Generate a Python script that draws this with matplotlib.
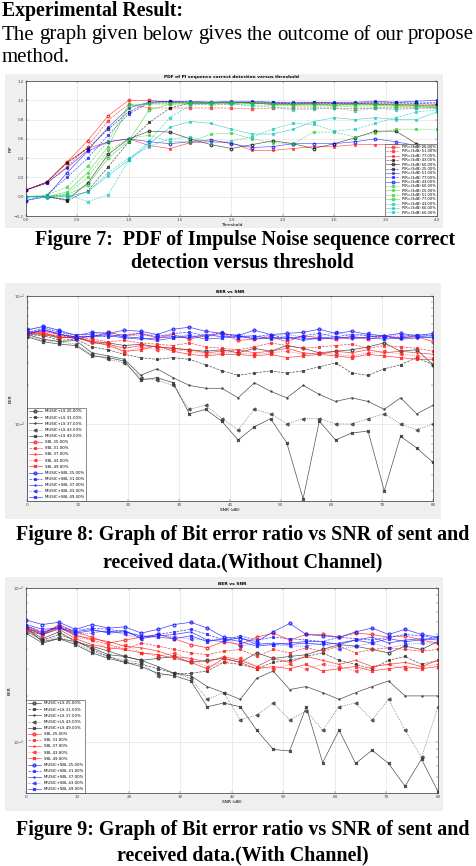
import matplotlib
matplotlib.use("Agg")
import matplotlib.pyplot as plt
import matplotlib.patches as pth
import numpy as np

W, H = 477, 866

# ---- Figure 7 data: PDF vs threshold ----
thr = [0.0, 0.2, 0.4, 0.6, 0.8, 1.0, 1.2, 1.4, 1.6, 1.8, 2.0,
       2.2, 2.4, 2.6, 2.8, 3.0, 3.2, 3.4, 3.6, 3.8, 4.0]
pdf_labels = ["PIR=(3dB) 25.00%", "PIR=(3dB) 51.00%", "PIR=(3dB) 77.00%",
              "PIR=(3dB) 43.00%", "PIR=(3dB) 60.00%", "PIR=(3dB) 25.00%",
              "PIR=(3dB) 51.00%", "PIR=(3dB) 77.00%", "PIR=(3dB) 43.00%",
              "PIR=(3dB) 60.00%", "PIR=(3dB) 25.00%", "PIR=(3dB) 51.00%",
              "PIR=(3dB) 77.00%", "PIR=(3dB) 43.00%", "PIR=(3dB) 60.00%",
              "PIR=(3dB) 60.00%"]
pdf_colors = ["r", "r", "r", "k", "k", "k", "b", "b", "b",
              "#22cc22", "#22cc22", "#22cc22", "#22cc22", "c", "c", "c"]
pdf_r1 = [0.07, 0.15, 0.36, 0.58, 0.84, 1.00, 1.00, 0.98, 0.97, 0.97, 0.97, 0.98, 0.97, 0.96, 0.97, 0.97, 0.97, 0.96, 0.96, 0.95, 0.95]
pdf_r2 = [0.07, 0.14, 0.31, 0.52, 0.79, 0.96, 0.92, 0.92, 0.92, 0.92, 0.92, 0.91, 0.92, 0.92, 0.92, 0.92, 0.91, 0.92, 0.92, 0.92, 0.92]
pdf_r3 = [0.07, 0.15, 0.36, 0.50, 0.57, 0.60, 0.53, 0.50, 0.56, 0.57, 0.56, 0.48, 0.48, 0.50, 0.52, 0.52, 0.54, 0.54, 0.54, 0.52, 0.53]
pdf_k1 = [0.00, 0.00, -0.04, 0.06, 0.31, 0.57, 0.77, 0.92, 0.97, 0.97, 0.98, 0.97, 0.96, 0.96, 0.96, 0.95, 0.96, 0.96, 0.95, 0.95, 0.95]
pdf_k2 = [0.00, 0.00, -0.03, 0.14, 0.44, 0.60, 0.68, 0.67, 0.60, 0.54, 0.50, 0.54, 0.58, 0.55, 0.50, 0.55, 0.61, 0.68, 0.68, 0.55, 0.48]
pdf_k3 = [0.07, 0.15, 0.35, 0.50, 0.70, 0.88, 0.98, 0.99, 0.98, 0.98, 0.98, 0.97, 0.96, 0.97, 0.97, 0.97, 0.97, 0.97, 0.97, 0.97, 0.96]
pdf_b1 = [0.07, 0.14, 0.30, 0.48, 0.72, 0.92, 0.98, 0.99, 0.99, 0.98, 0.99, 0.99, 0.98, 0.98, 0.98, 0.98, 0.98, 0.99, 0.98, 0.99, 1.00]
pdf_b2 = [-0.04, 0.02, 0.20, 0.40, 0.64, 0.86, 0.97, 0.98, 0.98, 0.98, 0.97, 0.98, 0.98, 0.97, 0.98, 0.97, 0.97, 0.98, 0.98, 0.97, 0.98]
pdf_b3 = [-0.04, 0.00, 0.25, 0.47, 0.57, 0.60, 0.57, 0.55, 0.57, 0.59, 0.55, 0.51, 0.52, 0.55, 0.55, 0.55, 0.57, 0.60, 0.57, 0.53, 0.48]
pdf_g1 = [0.00, 0.02, 0.10, 0.32, 0.58, 0.96, 0.96, 0.96, 0.96, 0.95, 0.96, 0.95, 0.95, 0.94, 0.94, 0.94, 0.93, 0.93, 0.93, 0.93, 0.93]
pdf_g2 = [0.00, 0.00, 0.05, 0.25, 0.52, 0.94, 0.97, 0.97, 0.98, 0.98, 0.97, 0.97, 0.96, 0.95, 0.95, 0.95, 0.95, 0.95, 0.94, 0.94, 0.92]
pdf_g3 = [0.00, 0.00, 0.03, 0.20, 0.48, 0.60, 0.64, 0.57, 0.57, 0.65, 0.66, 0.60, 0.56, 0.55, 0.67, 0.67, 0.62, 0.66, 0.70, 0.70, 0.70]
pdf_g4 = [0.00, 0.00, 0.02, 0.12, 0.40, 0.58, 0.90, 0.96, 0.97, 0.97, 0.98, 0.97, 0.96, 0.96, 0.96, 0.95, 0.96, 0.96, 0.95, 0.95, 0.93]
pdf_c1 = [0.00, 0.00, 0.02, -0.05, 0.02, 0.38, 0.58, 0.82, 0.95, 0.96, 0.96, 0.94, 0.93, 0.90, 0.91, 0.92, 0.89, 0.92, 0.90, 0.92, 0.92]
pdf_c2 = [0.00, 0.00, 0.00, 0.05, 0.22, 0.38, 0.55, 0.72, 0.78, 0.76, 0.70, 0.65, 0.65, 0.70, 0.78, 0.82, 0.80, 0.82, 0.80, 0.80, 0.88]
pdf_c3 = [0.00, 0.00, 0.00, 0.05, 0.25, 0.40, 0.52, 0.60, 0.62, 0.56, 0.58, 0.62, 0.70, 0.76, 0.75, 0.68, 0.70, 0.76, 0.82, 0.88, 0.90]
pdf_series = [pdf_r1, pdf_r2, pdf_r3, pdf_k1, pdf_k2, pdf_k3, pdf_b1, pdf_b2, pdf_b3,
              pdf_g1, pdf_g2, pdf_g3, pdf_g4, pdf_c1, pdf_c2, pdf_c3]

# ---- Figure 8 data: BER vs SNR without channel ----
snr = [0.0, 3.2, 6.4, 9.6, 12.8, 16.0, 19.2, 22.4, 25.6, 28.8, 32.0, 35.2, 38.4,
       41.6, 44.8, 48.0, 51.2, 54.4, 57.6, 60.8, 64.0, 67.2, 70.4, 73.6, 76.8, 80.0]
pct = ["25.00%", "31.00%", "37.00%", "43.00%", "49.00%"]
ber_labels = (["MUSIC+LS " + p for p in pct] + ["SBL " + p for p in pct]
              + ["MUSIC+SBL " + p for p in pct])

b8_k1 = [0.051, 0.050, 0.047, 0.048, 0.044, 0.043, 0.041, 0.042, 0.040, 0.039, 0.038, 0.037, 0.038, 0.036, 0.039, 0.037, 0.041, 0.039, 0.036, 0.037, 0.038, 0.040, 0.043, 0.037, 0.038, 0.029]
b8_k2 = [0.050, 0.049, 0.045, 0.046, 0.040, 0.038, 0.035, 0.033, 0.032, 0.033, 0.032, 0.029, 0.026, 0.024, 0.025, 0.026, 0.025, 0.026, 0.028, 0.030, 0.025, 0.024, 0.027, 0.029, 0.033, 0.029]
b8_k3 = [0.050, 0.046, 0.044, 0.045, 0.036, 0.034, 0.032, 0.024, 0.027, 0.023, 0.020, 0.019, 0.019, 0.016, 0.021, 0.018, 0.016, 0.020, 0.017, 0.015, 0.016, 0.015, 0.013, 0.016, 0.012, 0.014]
b8_k4 = [0.049, 0.045, 0.044, 0.042, 0.035, 0.032, 0.030, 0.023, 0.022, 0.020, 0.013, 0.014, 0.011, 0.009, 0.013, 0.012, 0.010, 0.011, 0.011, 0.010, 0.010, 0.011, 0.012, 0.010, 0.009, 0.010]
b8_k5 = [0.048, 0.044, 0.042, 0.041, 0.034, 0.033, 0.031, 0.022, 0.023, 0.021, 0.012, 0.013, 0.0105, 0.0075, 0.0095, 0.011, 0.0071, 0.0026, 0.0105, 0.0075, 0.0085, 0.0088, 0.003, 0.008, 0.0065, 0.005]
b8_r1 = [0.052, 0.053, 0.050, 0.048, 0.048, 0.052, 0.049, 0.051, 0.047, 0.050, 0.046, 0.049, 0.051, 0.045, 0.046, 0.048, 0.044, 0.049, 0.047, 0.046, 0.048, 0.046, 0.049, 0.047, 0.048, 0.044]
b8_r2 = [0.053, 0.051, 0.049, 0.047, 0.046, 0.044, 0.045, 0.043, 0.042, 0.041, 0.043, 0.040, 0.039, 0.038, 0.040, 0.043, 0.041, 0.039, 0.040, 0.041, 0.042, 0.039, 0.041, 0.040, 0.039, 0.037]
b8_r3 = [0.051, 0.052, 0.047, 0.048, 0.043, 0.042, 0.039, 0.041, 0.040, 0.039, 0.038, 0.036, 0.037, 0.038, 0.036, 0.037, 0.039, 0.036, 0.035, 0.037, 0.036, 0.038, 0.036, 0.037, 0.036, 0.035]
b8_r4 = [0.052, 0.050, 0.048, 0.046, 0.045, 0.043, 0.036, 0.040, 0.038, 0.038, 0.037, 0.035, 0.036, 0.036, 0.035, 0.036, 0.037, 0.035, 0.036, 0.035, 0.034, 0.036, 0.037, 0.035, 0.034, 0.033]
b8_r5 = [0.050, 0.051, 0.048, 0.047, 0.044, 0.041, 0.037, 0.038, 0.041, 0.037, 0.035, 0.034, 0.035, 0.035, 0.034, 0.035, 0.033, 0.034, 0.035, 0.034, 0.033, 0.035, 0.034, 0.033, 0.032, 0.032]
b8_b1 = [0.054, 0.058, 0.054, 0.049, 0.052, 0.051, 0.054, 0.053, 0.050, 0.055, 0.057, 0.053, 0.051, 0.049, 0.054, 0.050, 0.051, 0.052, 0.055, 0.051, 0.053, 0.050, 0.049, 0.051, 0.049, 0.051]
b8_b2 = [0.052, 0.056, 0.052, 0.050, 0.050, 0.048, 0.050, 0.051, 0.048, 0.051, 0.052, 0.049, 0.052, 0.047, 0.048, 0.050, 0.046, 0.049, 0.051, 0.048, 0.050, 0.049, 0.047, 0.048, 0.050, 0.049]
b8_b3 = [0.050, 0.055, 0.050, 0.048, 0.048, 0.049, 0.047, 0.046, 0.047, 0.048, 0.047, 0.050, 0.048, 0.049, 0.046, 0.047, 0.048, 0.045, 0.047, 0.048, 0.046, 0.048, 0.049, 0.046, 0.047, 0.048]
b8_b4 = [0.055, 0.057, 0.053, 0.047, 0.051, 0.052, 0.049, 0.049, 0.050, 0.048, 0.050, 0.048, 0.050, 0.050, 0.047, 0.049, 0.050, 0.048, 0.049, 0.052, 0.049, 0.051, 0.048, 0.050, 0.048, 0.050]
b8_b5 = [0.051, 0.054, 0.051, 0.046, 0.049, 0.050, 0.048, 0.047, 0.045, 0.047, 0.049, 0.046, 0.047, 0.048, 0.049, 0.046, 0.047, 0.047, 0.046, 0.047, 0.048, 0.047, 0.046, 0.047, 0.049, 0.047]
ber8_series = [b8_k1, b8_k2, b8_k3, b8_k4, b8_k5, b8_r1, b8_r2, b8_r3, b8_r4, b8_r5,
               b8_b1, b8_b2, b8_b3, b8_b4, b8_b5]

# ---- Figure 9 data: BER vs SNR with channel ----
b9_k1 = [0.0055, 0.0047, 0.0052, 0.0045, 0.0041, 0.0037, 0.0036, 0.0034, 0.0035, 0.0036, 0.0033, 0.0034, 0.0035, 0.0033, 0.0038, 0.0035, 0.0036, 0.0037, 0.0040, 0.0043, 0.0042, 0.0040, 0.0038, 0.0042, 0.0040, 0.0045]
b9_k2 = [0.0053, 0.0046, 0.0050, 0.0046, 0.0040, 0.0036, 0.0033, 0.0032, 0.0030, 0.0028, 0.0028, 0.0029, 0.0033, 0.0032, 0.0030, 0.0033, 0.0034, 0.0036, 0.0038, 0.0034, 0.0032, 0.0030, 0.0034, 0.0036, 0.0032, 0.0034]
b9_k3 = [0.0055, 0.0045, 0.0047, 0.0045, 0.0042, 0.0039, 0.0036, 0.0034, 0.0031, 0.0028, 0.0027, 0.0023, 0.0021, 0.0019, 0.0026, 0.0029, 0.0022, 0.0023, 0.0021, 0.0019, 0.0021, 0.0023, 0.0025, 0.0020, 0.0020, 0.0020]
b9_k4 = [0.0052, 0.0046, 0.0048, 0.0044, 0.0039, 0.0036, 0.0034, 0.0033, 0.0027, 0.0028, 0.0026, 0.0019, 0.0021, 0.0014, 0.0015, 0.0018, 0.0014, 0.0016, 0.0012, 0.0017, 0.0018, 0.0014, 0.0019, 0.0012, 0.0008, 0.0017]
b9_k5 = [0.0051, 0.0044, 0.0047, 0.0043, 0.0038, 0.0035, 0.0033, 0.0031, 0.0028, 0.0027, 0.0025, 0.0017, 0.0018, 0.0017, 0.0012, 0.0009, 0.00088, 0.0017, 0.00074, 0.0012, 0.00073, 0.00089, 0.00073, 0.00052, 0.00078, 0.00048]
b9_r1 = [0.0056, 0.0050, 0.0058, 0.0052, 0.0048, 0.0044, 0.0046, 0.0048, 0.0050, 0.0047, 0.0043, 0.0041, 0.0045, 0.0043, 0.0048, 0.0051, 0.0046, 0.0050, 0.0050, 0.0048, 0.0051, 0.0050, 0.0048, 0.0049, 0.0046, 0.0044]
b9_r2 = [0.0054, 0.0052, 0.0055, 0.0050, 0.0046, 0.0043, 0.0040, 0.0044, 0.0042, 0.0040, 0.0038, 0.0037, 0.0039, 0.0040, 0.0036, 0.0040, 0.0038, 0.0041, 0.0039, 0.0042, 0.0038, 0.0040, 0.0041, 0.0040, 0.0039, 0.0040]
b9_r3 = [0.0057, 0.0051, 0.0056, 0.0049, 0.0047, 0.0045, 0.0042, 0.0041, 0.0039, 0.0036, 0.0035, 0.0033, 0.0036, 0.0034, 0.0031, 0.0035, 0.0033, 0.0036, 0.0034, 0.0032, 0.0034, 0.0031, 0.0032, 0.0033, 0.0031, 0.0034]
b9_r4 = [0.0055, 0.0049, 0.0057, 0.0048, 0.0046, 0.0040, 0.0043, 0.0038, 0.0036, 0.0038, 0.0034, 0.0031, 0.0033, 0.0035, 0.0031, 0.0030, 0.0032, 0.0030, 0.0032, 0.0031, 0.0029, 0.0031, 0.0032, 0.0030, 0.0031, 0.0032]
b9_r5 = [0.0053, 0.0050, 0.0054, 0.0047, 0.0043, 0.0041, 0.0040, 0.0038, 0.0037, 0.0035, 0.0033, 0.0030, 0.0035, 0.0033, 0.0030, 0.0031, 0.0030, 0.0032, 0.0029, 0.0030, 0.0031, 0.0029, 0.0030, 0.0031, 0.0030, 0.0031]
b9_b1 = [0.0062, 0.0058, 0.0060, 0.0054, 0.0058, 0.0055, 0.0056, 0.0051, 0.0054, 0.0058, 0.0060, 0.0055, 0.0048, 0.0047, 0.0045, 0.0052, 0.0059, 0.0050, 0.0049, 0.0048, 0.0052, 0.0055, 0.0050, 0.0054, 0.0050, 0.0048]
b9_b2 = [0.0057, 0.0052, 0.0056, 0.0053, 0.0055, 0.0054, 0.0052, 0.0048, 0.0050, 0.0052, 0.0054, 0.0050, 0.0046, 0.0049, 0.0046, 0.0048, 0.0047, 0.0046, 0.0045, 0.0048, 0.0047, 0.0046, 0.0048, 0.0050, 0.0049, 0.0047]
b9_b3 = [0.0055, 0.0050, 0.0055, 0.0051, 0.0053, 0.0052, 0.0053, 0.0047, 0.0049, 0.0050, 0.0052, 0.0046, 0.0045, 0.0048, 0.0043, 0.0044, 0.0043, 0.0044, 0.0043, 0.0044, 0.0046, 0.0048, 0.0044, 0.0046, 0.0047, 0.0046]
b9_b4 = [0.0056, 0.0051, 0.0057, 0.0050, 0.0051, 0.0053, 0.0050, 0.0047, 0.0050, 0.0048, 0.0047, 0.0046, 0.0047, 0.0042, 0.0044, 0.0043, 0.0042, 0.0042, 0.0044, 0.0040, 0.0042, 0.0044, 0.0041, 0.0043, 0.0044, 0.0044]
b9_b5 = [0.0058, 0.0054, 0.0055, 0.0052, 0.0054, 0.0051, 0.0052, 0.0049, 0.0048, 0.0047, 0.0049, 0.0045, 0.0047, 0.0045, 0.0042, 0.0043, 0.0044, 0.0045, 0.0045, 0.0043, 0.0046, 0.0044, 0.0047, 0.0045, 0.0046, 0.0048]
ber9_series = [b9_k1, b9_k2, b9_k3, b9_k4, b9_k5, b9_r1, b9_r2, b9_r3, b9_r4, b9_r5,
               b9_b1, b9_b2, b9_b3, b9_b4, b9_b5]

ber_colors = ["#333333"] * 5 + ["#ff2020"] * 5 + ["#2020ff"] * 5
markers = ["o", "*", "+", "<", "x"]
styles = ["-", "--", "-", ":", "-"]

paragraph = ["The", "graph", "given", "below", "gives", "the", "outcome", "of", "our", "propose"]


def rect(x0, y0, x1, y1):
    return [x0 / W, 1 - y1 / H, (x1 - x0) / W, (y1 - y0) / H]


def panel(fig, x0, y0, x1, y1):
    # grey matlab-like figure background behind each chart
    fig.patches.append(pth.Rectangle((x0 / W, 1 - y1 / H), (x1 - x0) / W, (y1 - y0) / H,
                                     transform=fig.transFigure, facecolor="#efefef",
                                     edgecolor="none", zorder=-5))


def style_axes(ax, title, xlabel, ylabel):
    ax.set_title(title, fontsize=3.2, fontweight="bold", pad=2)
    ax.set_xlabel(xlabel, fontsize=3.2, labelpad=1)
    ax.set_ylabel(ylabel, fontsize=3.2, labelpad=1)
    ax.tick_params(labelsize=3, length=1.5, width=0.3, pad=1.5, colors="#444444",
                   which="both", direction="in", top=True, right=True)
    ax.grid(True, color="#dddddd", linewidth=0.4)
    for s in ax.spines.values():
        s.set_linewidth(0.5)
        s.set_color("#333333")


def add_legend(ax, loc, fs, spacing):
    leg = ax.legend(loc=loc, bbox_to_anchor=(1, 0) if "right" in loc else (0, 0),
                    borderaxespad=0, fontsize=fs, handlelength=3.5, labelspacing=spacing,
                    frameon=True, fancybox=False, borderpad=0.4, handletextpad=0.8)
    leg.get_frame().set_linewidth(0.5)
    leg.get_frame().set_edgecolor("#333333")


fig = plt.figure(figsize=(W / 100, H / 100), dpi=100)
serif = "Liberation Serif"
cap = dict(fontsize=14.4, fontweight="bold", family=serif, ha="center", va="center")

fig.text(2 / W, 1 - 11 / H, "Experimental Result:", fontsize=14.2, fontweight="bold",
         family=serif, va="center", ha="left")

# justified first line of the paragraph: measure words, spread the gaps evenly
renderer = fig.canvas.get_renderer()
words = [fig.text(0, 1 - 35 / H, w, fontsize=15, family=serif, va="center", ha="left")
         for w in paragraph]
widths = [t.get_window_extent(renderer).width for t in words]
gap = (474 - 2 - sum(widths)) / (len(words) - 1)
x = 2
for t, w in zip(words, widths):
    t.set_x(x / W)
    x += w + gap
fig.text(2 / W, 1 - 58 / H, "method.", fontsize=15, family=serif, va="center", ha="left")

# ---- Figure 7 ----
panel(fig, 5, 74, 443, 228)
ax7 = fig.add_axes(rect(26, 81, 437, 216))
for i, ys in enumerate(pdf_series):
    ax7.plot(thr, ys, color=pdf_colors[i], marker=["o", "s", "*", "x"][i % 4],
             markersize=1.8, markerfacecolor="none", linewidth=0.45,
             linestyle=["-", "--"][i % 2], label=pdf_labels[i], alpha=0.7)
ax7.set_xlim(0, 4)
ax7.set_ylim(-0.2, 1.2)
ax7.set_xticks([0, 0.5, 1, 1.5, 2, 2.5, 3, 3.5, 4])
ax7.set_yticks([-0.2, 0, 0.2, 0.4, 0.6, 0.8, 1, 1.2])
style_axes(ax7, "PDF of PI sequence correct detection versus threshold", "Threshold", "PIP")
add_legend(ax7, "lower right", 2.6, 0.1)

fig.text(245 / W, 1 - 240 / H, "Figure 7:  PDF of Impulse Noise sequence correct", **cap)
fig.text(242 / W, 1 - 263 / H, "detection versus threshold", **cap)

# ---- Figure 8 ----
panel(fig, 5, 283, 441, 519)
ax8 = fig.add_axes(rect(27, 296, 433, 501))
for i, ys in enumerate(ber8_series):
    ax8.semilogy(snr, ys, color=ber_colors[i], marker=markers[i % 5], markersize=2.0,
                 markerfacecolor="none", linewidth=0.5, linestyle=styles[i % 5],
                 label=ber_labels[i], alpha=0.85)
ax8.set_xlim(0, 80)
ax8.set_ylim(0.0025, 0.1)
ax8.set_xticks(range(0, 81, 10))
style_axes(ax8, "BER vs SNR", "SNR (dB)", "BER")
add_legend(ax8, "lower left", 2.8, 0.55)

fig.text(243 / W, 1 - 535 / H, "Figure 8: Graph of Bit error ratio vs SNR of sent and", **cap)
fig.text(243 / W, 1 - 562 / H, "received data.(Without Channel)", **cap)

# ---- Figure 9 ----
panel(fig, 5, 577, 443, 811)
ax9 = fig.add_axes(rect(26, 588, 438, 793))
for i, ys in enumerate(ber9_series):
    ax9.semilogy(snr, ys, color=ber_colors[i], marker=markers[i % 5], markersize=2.0,
                 markerfacecolor="none", linewidth=0.5, linestyle=styles[i % 5],
                 label=ber_labels[i], alpha=0.85)
ax9.set_xlim(0, 80)
ax9.set_ylim(0.00047, 0.01)
ax9.set_xticks(range(0, 81, 10))
style_axes(ax9, "BER vs SNR", "SNR (dB)", "BER")
add_legend(ax9, "lower left", 2.8, 0.55)

fig.text(243 / W, 1 - 830 / H, "Figure 9: Graph of Bit error ratio vs SNR of sent and", **cap)
fig.text(243 / W, 1 - 855 / H, "received data.(With Channel)", **cap)

fig.savefig("out.png", dpi=100)
